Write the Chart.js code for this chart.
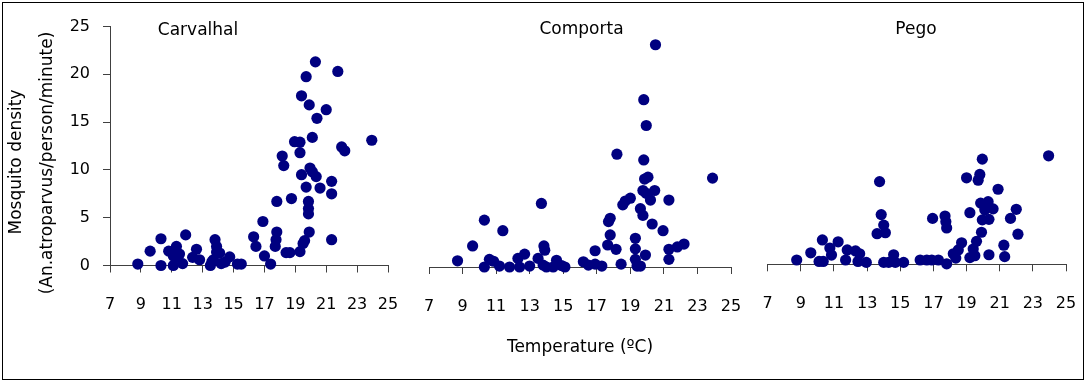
<!DOCTYPE html>
<html>
<head>
<meta charset="utf-8">
<title>Mosquito density vs temperature</title>
<script src="https://cdn.jsdelivr.net/npm/chart.js@4"></script>
<style>
  body { margin: 0; background: #fff; }
  #wrap { position: relative; width: 1084px; height: 381px; overflow: hidden; }
  #frame { position: absolute; left: 2px; top: 2px; width: 1082px; height: 378px; box-sizing: border-box; border: 1px solid #000; }
  canvas { position: absolute; top: 0; }
</style>
</head>
<body>
<div id="wrap">
  <canvas id="chartCarvalhal" width="400" height="381" style="left:0px"></canvas>
  <canvas id="chartComporta" width="345" height="381" style="left:400px"></canvas>
  <canvas id="chartPego" width="339" height="381" style="left:745px"></canvas>
  <div id="frame"></div>
</div>
<script>
// Tick labels
const xTicks = [7, 9, 11, 13, 15, 17, 19, 21, 23, 25];
const yTicks = [0, 5, 10, 15, 20, 25];

// Carvalhal
const carvalhalTemp = [8.8, 9.6, 10.3, 10.3, 10.8, 11.1, 11.3, 11.1, 11.4, 11.7, 11.9, 11.5, 12.35, 12.6, 12.8,
  13.5, 13.6, 13.7, 13.8, 13.9, 13.9, 14.1, 14.2, 14.45, 14.75, 15.25, 15.5, 16.3, 16.45, 16.9, 17.0, 17.4,
  17.8, 17.8, 17.75, 17.7, 18.15, 18.25, 18.4, 18.65, 18.75, 18.95, 19.3, 19.4, 19.3, 19.4, 19.3, 19.5, 19.6,
  19.7, 19.7, 19.85, 19.85, 19.85, 19.9, 19.9, 20.1, 19.95, 20.1, 20.3, 20.35, 20.4, 20.6, 21.0, 21.35, 21.35,
  21.35, 21.75, 22.0, 22.2, 23.95];
const carvalhalDensity = [0.15, 1.5, 2.8, 0, 1.5, 0, 2.0, 1.0, 0.9, 0.2, 3.2, 1.2, 0.85, 1.7, 0.6,
  0, 0.4, 0.6, 2.7, 2.0, 1.4, 1.3, 0.2, 0.35, 0.9, 0.15, 0.15, 3.0, 2.0, 4.6, 1.0, 0.15,
  6.7, 3.5, 2.7, 2.0, 11.45, 10.45, 1.35, 1.35, 7.0, 12.95, 12.9, 17.75, 11.8, 9.5, 1.45, 2.3, 2.6,
  19.75, 8.2, 6.7, 5.95, 5.4, 3.5, 16.8, 13.4, 10.2, 9.8, 21.3, 9.3, 15.4, 8.1, 16.3, 8.8, 7.5,
  2.7, 20.3, 12.4, 12.0, 13.1];

// Comporta
const comportaTemp = [8.7, 9.6, 10.3, 10.3, 10.6, 10.85, 11.4, 11.2, 11.8, 12.3, 12.4, 12.7, 13.0, 13.5,
  13.7, 13.85, 13.9, 13.8, 14.0, 14.6, 14.4, 14.9, 15.1, 16.2, 16.5, 16.9, 16.9, 17.3, 17.65, 17.8, 17.7,
  17.8, 18.15, 18.45, 18.2, 18.55, 18.7, 19.0, 19.3, 19.3, 19.3, 19.4, 19.6, 19.8, 19.95, 19.8, 19.85,
  20.05, 19.75, 19.95, 20.2, 20.45, 19.6, 19.75, 19.9, 20.5, 20.3, 20.95, 21.3, 21.3, 21.3, 21.8, 22.2, 23.9];
const comportaDensity = [0.65, 2.2, 4.9, 0, 0.8, 0.6, 3.8, 0.1, 0, 0.9, 0, 1.35, 0.1, 0.9,
  6.65, 2.2, 1.75, 0.2, 0, 0.7, 0, 0.15, 0, 0.55, 0.2, 1.7, 0.3, 0.1, 2.3, 3.35, 4.75,
  5.1, 1.85, 0.3, 11.8, 6.5, 6.9, 7.2, 3.0, 1.9, 0.8, 0.1, 0.1, 17.5, 14.8, 11.2, 9.2,
  9.4, 8.0, 7.7, 7.0, 8.0, 6.1, 5.4, 1.25, 23.25, 4.5, 3.8, 7.0, 1.85, 0.8, 2.1, 2.4, 9.3];

// Pego
const pegoTemp = [8.75, 9.6, 10.1, 10.35, 10.3, 10.85, 10.75, 11.25, 11.7, 11.8, 12.3, 12.45, 12.55, 12.95,
  13.75, 13.85, 14.0, 13.6, 14.1, 14.0, 14.3, 14.6, 14.7, 15.2, 16.2, 16.6, 16.9, 17.3, 16.95, 17.7, 17.75,
  17.8, 17.8, 18.2, 18.35, 18.5, 18.7, 19.0, 19.2, 19.2, 19.4, 19.5, 19.6, 19.7, 19.8, 19.95, 19.9, 19.85,
  20.1, 19.95, 20.3, 20.35, 20.6, 20.35, 20.9, 21.25, 21.3, 21.65, 22.0, 22.1, 23.95];
const pegoDensity = [0.45, 1.2, 0.3, 0.3, 2.55, 0.97, 1.7, 2.35, 0.45, 1.5, 1.4, 0.3, 1.1, 0.2,
  8.65, 5.2, 4.1, 3.2, 3.3, 0.2, 0.2, 1.0, 0.2, 0.2, 0.45, 0.45, 0.45, 0.45, 4.8, 5.05, 4.45,
  3.8, 0.05, 1.1, 0.65, 1.5, 2.25, 9.05, 5.4, 0.7, 1.6, 0.9, 2.4, 8.8, 9.4, 11.0, 3.35, 6.4,
  5.7, 4.65, 6.55, 4.7, 5.8, 1.0, 7.85, 2.0, 0.8, 4.8, 5.75, 3.15, 11.35];

const axisColor = '#404040';
const dotColor = '#000080';
const fontFamily = "'DejaVu Sans', sans-serif";

// Free text drawn on the canvas: panel names and the y title
const panelText = {
    id: 'panelText',
    afterDraw(chart, args, opts) {
        const ctx = chart.ctx;
        ctx.save();
        ctx.fillStyle = '#000';
        ctx.textAlign = 'center';
        ctx.textBaseline = 'middle';
        (opts.items || []).forEach(item => {
            ctx.save();
            ctx.font = item.size + 'px ' + fontFamily;
            ctx.translate(item.x, item.y);
            if (item.rotate) ctx.rotate(item.rotate);
            ctx.fillText(item.text, 0, 0);
            ctx.restore();
        });
        ctx.restore();
    }
};

function makePanel(canvasId, temps, dens, cfg) {
    const points = temps.map((t, i) => ({ x: t, y: dens[i] }));
    const ctx = document.getElementById(canvasId).getContext('2d');
    return new Chart(ctx, {
        type: 'scatter',
        data: {
            datasets: [{
                data: points,
                backgroundColor: dotColor,
                borderColor: dotColor,
                borderWidth: 0,
                pointRadius: 5.6,
                pointHoverRadius: 5.6,
                clip: false
            }]
        },
        options: {
            responsive: false,
            animation: false,
            events: [],
            layout: { padding: cfg.padding },
            plugins: {
                legend: { display: false },
                tooltip: { enabled: false },
                panelText: { items: cfg.texts }
            },
            scales: {
                x: {
                    type: 'linear',
                    min: 7,
                    max: 25,
                    afterBuildTicks: s => { s.ticks = xTicks.map(v => ({ value: v })); },
                    afterFit: s => {
                        s.height = cfg.xHeight;
                        s.paddingLeft = 0;
                        s.paddingRight = 0;
                    },
                    grid: { display: true, drawOnChartArea: false, tickLength: 7, tickColor: axisColor, tickWidth: 1 },
                    border: { display: true, color: axisColor, width: 1 },
                    ticks: { color: '#000', font: { family: fontFamily, size: 16 }, padding: 23, maxRotation: 0, autoSkip: false },
                    title: cfg.xTitle ? {
                        display: true,
                        text: cfg.xTitle,
                        color: '#000',
                        font: { family: fontFamily, size: 17 },
                        padding: { top: 0, bottom: 23 }
                    } : { display: false }
                },
                y: {
                    type: 'linear',
                    min: 0,
                    max: 25,
                    display: cfg.showY,
                    afterBuildTicks: s => { s.ticks = yTicks.map(v => ({ value: v })); },
                    afterFit: s => {
                        s.width = cfg.showY ? 110 : 0;
                        s.paddingTop = 0;
                        s.paddingBottom = 0;
                    },
                    grid: { display: true, drawOnChartArea: false, tickLength: 7, tickColor: axisColor, tickWidth: 1 },
                    border: { display: true, color: axisColor, width: 1 },
                    ticks: { color: '#000', font: { family: fontFamily, size: 16 }, padding: 13 }
                }
            }
        },
        plugins: [panelText]
    });
}

makePanel('chartCarvalhal', carvalhalTemp, carvalhalDensity, {
    padding: { left: 0, right: 12, top: 26.5, bottom: 0 },
    xHeight: 115.5,
    showY: true,
    texts: [
        { text: 'Carvalhal', x: 198, y: 31, size: 17 },
        { text: 'Mosquito density', x: 17, y: 162, size: 17, rotate: -Math.PI / 2 },
        { text: '(An.atroparvus/person/minute)', x: 48, y: 163, size: 17, rotate: -Math.PI / 2 }
    ]
});

makePanel('chartComporta', comportaTemp, comportaDensity, {
    padding: { left: 29, right: 14, top: 28, bottom: 0 },
    xHeight: 114,
    showY: false,
    xTitle: 'Temperature (ºC)',
    texts: [{ text: 'Comporta', x: 181.5, y: 30, size: 17 }]
});

makePanel('chartPego', pegoTemp, pegoDensity, {
    padding: { left: 22.7, right: 18, top: 25.3, bottom: 0 },
    xHeight: 116.7,
    showY: false,
    texts: [{ text: 'Pego', x: 171, y: 30, size: 17 }]
});
</script>
</body>
</html>
